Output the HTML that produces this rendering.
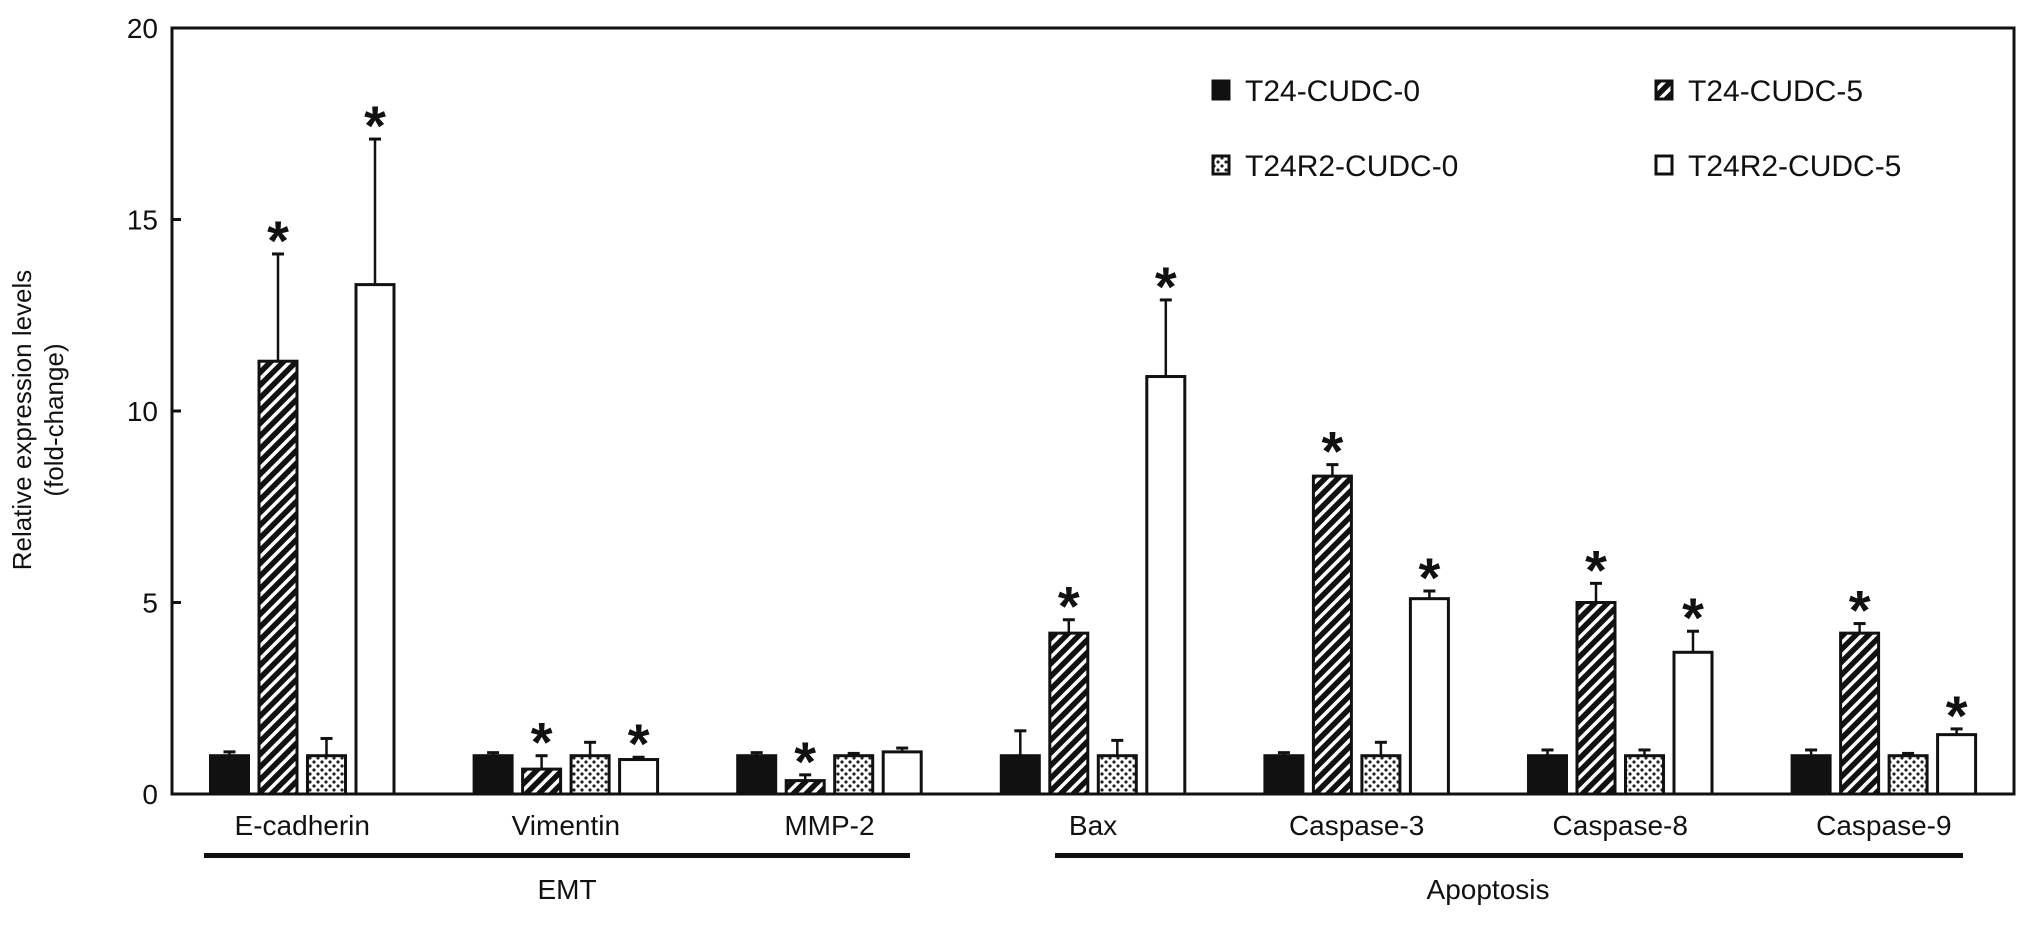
<!DOCTYPE html>
<html><head><meta charset="utf-8"><style>
body{margin:0;background:#fff;}
svg text{font-family:"Liberation Sans",Arial,sans-serif;fill:#111;}
</style></head><body>
<svg id="chart" width="2032" height="938" viewBox="0 0 2032 938" xmlns="http://www.w3.org/2000/svg">
<defs>
<pattern id="hatch" patternUnits="userSpaceOnUse" width="9" height="9" patternTransform="rotate(45)">
<rect width="9" height="9" fill="#111"/><rect x="0" y="0" width="3.5" height="9" fill="#fff"/>
</pattern>
<pattern id="dots" patternUnits="userSpaceOnUse" width="8" height="8">
<rect width="8" height="8" fill="#fff"/><circle cx="2" cy="2" r="1.6" fill="#222"/><circle cx="6" cy="6" r="1.6" fill="#222"/>
</pattern>
</defs>
<g id="plot"></g>
</svg>
<script>
const categories=["E-cadherin","Vimentin","MMP-2","Bax","Caspase-3","Caspase-8","Caspase-9"];
const seriesNames=["T24-CUDC-0","T24-CUDC-5","T24R2-CUDC-0","T24R2-CUDC-5"];
const s0=[1,1,1,1,1,1,1];
const s1=[11.3,0.65,0.35,4.2,8.3,5.0,4.2];
const s2=[1,1,1,1,1,1,1];
const s3=[13.3,0.9,1.1,10.9,5.1,3.7,1.55];
const e0=[0.1,0.08,0.08,0.65,0.08,0.15,0.15];
const e1=[2.8,0.35,0.15,0.35,0.3,0.5,0.25];
const e2=[0.45,0.35,0.06,0.4,0.35,0.15,0.06];
const e3=[3.8,0.06,0.1,2.0,0.2,0.55,0.15];
const star1=[1,1,1,1,1,1,1];
const star3=[1,1,0,1,1,1,1];
const yTicks=[0,5,10,15,20];

const NS="http://www.w3.org/2000/svg";
const g=document.getElementById('plot');
const X0=172,X1=2014,Y0=794,Y20=28;
const y=v=>Y0-(v/20)*(Y0-Y20);
const barX=(c,i)=>210.5+c*263.6+i*48.5;
const BW=38;
function el(t,a,txt){const e=document.createElementNS(NS,t);for(const k in a)e.setAttribute(k,a[k]);if(txt!==undefined)e.textContent=txt;g.appendChild(e);return e;}
const vals=[s0,s1,s2,s3],errs=[e0,e1,e2,e3],fills=["#111","url(#hatch)","url(#dots)","#fff"];
categories.forEach((c,ci)=>{
  for(let si=0;si<4;si++){
    const v=vals[si][ci],er=errs[si][ci],x=barX(ci,si),cx=x+BW/2;
    const ln=el('line',{x1:cx,x2:cx,y1:y(v),y2:y(v+er),stroke:'#111','stroke-width':2.5});
    
    
    const cap=el('line',{x1:cx-6,x2:cx+6,y1:y(v+er),y2:y(v+er),stroke:'#111','stroke-width':3});
    
    
    const r=el('rect',{x:x,y:y(v),width:BW,height:y(0)-y(v),fill:fills[si],stroke:'#111','stroke-width':3});
    
    
    const st=si===1?star1[ci]:si===3?star3[ci]:0;
    if(st){const t=el('text',{x:cx,y:y(v+er)+6,'text-anchor':'middle','font-size':56,'font-weight':'bold'},'*');
      
      }
  }
  const lb=el('text',{x:barX(ci,0)+(3*48.5+BW)/2,y:835,'text-anchor':'middle','font-size':28},c);
  
  
});
yTicks.forEach(t=>{
  const tl=el('line',{x1:X0,x2:X0+9,y1:y(t),y2:y(t),stroke:'#111','stroke-width':3});
  
  
  const tx=el('text',{x:158,y:y(t)+10,'text-anchor':'end','font-size':28},String(t));
  
  
});
const frame=el('rect',{x:X0,y:Y20,width:X1-X0,height:Y0-Y20,fill:'none',stroke:'#111','stroke-width':3});


const yt=el('text',{transform:'translate(31,420) rotate(-90)','text-anchor':'middle','font-size':26},'Relative expression levels');


const yt2=el('text',{transform:'translate(63,420) rotate(-90)','text-anchor':'middle','font-size':26},'(fold-change)');


const b1=el('rect',{x:204,y:853,width:706,height:5,fill:'#111'});


const b2=el('rect',{x:1055,y:853,width:908,height:5,fill:'#111'});


const t1=el('text',{x:567,y:899,'text-anchor':'middle','font-size':28},'EMT');


const t2=el('text',{x:1488,y:899,'text-anchor':'middle','font-size':28},'Apoptosis');


const lx=[1213,1656],ly=[90,165];
seriesNames.forEach((n,i)=>{
  const x=lx[i%2],yy=ly[Math.floor(i/2)];
  const sq=el('rect',{x:x,y:yy-9,width:16,height:18,fill:fills[i],stroke:'#111','stroke-width':3});
  
  
  const t=el('text',{x:x+32,y:yy+11,'font-size':30},n);
  
  
});
</script>
</body></html>
